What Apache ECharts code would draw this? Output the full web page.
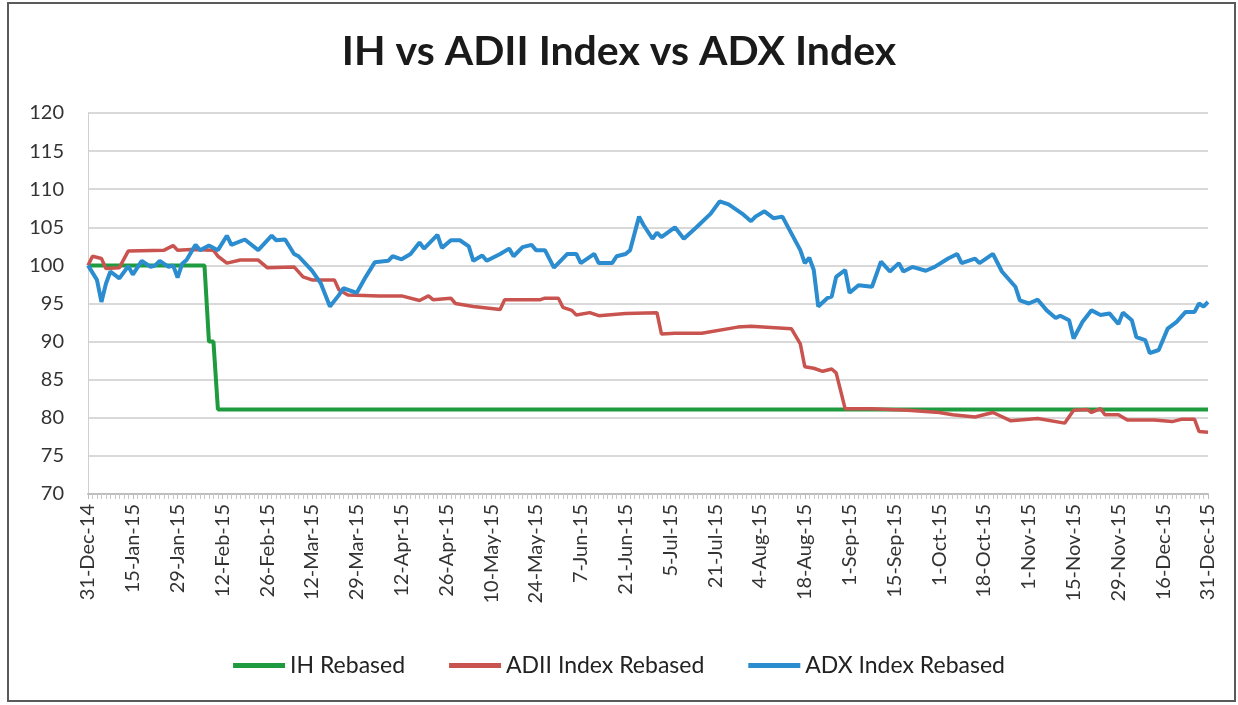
<!DOCTYPE html>
<html>
<head>
<meta charset="utf-8">
<script src="https://cdn.jsdelivr.net/npm/echarts@6/dist/echarts.min.js"></script>
<style>
  html, body { margin: 0; padding: 0; background: #fff; }
  #chart { width: 1238px; height: 705px; }
</style>
</head>
<body>
<div id="chart"></div>
<script>
// tick labels, one every 10 trading days
var tickLabels = ['31-Dec-14', '15-Jan-15', '29-Jan-15', '12-Feb-15', '26-Feb-15', '12-Mar-15',
  '29-Mar-15', '12-Apr-15', '26-Apr-15', '10-May-15', '24-May-15', '7-Jun-15', '21-Jun-15',
  '5-Jul-15', '21-Jul-15', '4-Aug-15', '18-Aug-15', '1-Sep-15', '15-Sep-15', '1-Oct-15',
  '18-Oct-15', '1-Nov-15', '15-Nov-15', '29-Nov-15', '16-Dec-15', '31-Dec-15'];

var seriesNames = ['IH Rebased', 'ADII Index Rebased', 'ADX Index Rebased'];

// [trading day index, rebased value]
var ihRebased = [[0, 100], [26, 100], [27, 90], [28, 90], [29, 81.1], [250, 81.1]];

var adiiRebased = [[0, 100.0], [1, 101.2], [3, 100.9], [4, 99.6], [7, 99.7], [9, 101.9], [17, 102.0],
  [19, 102.6], [20, 102.0], [23, 102.1], [28, 102.0], [29, 101.2], [31, 100.3], [34, 100.7],
  [38, 100.7], [40, 99.7], [46, 99.8], [48, 98.5], [50, 98.1], [55, 98.1], [56, 96.8], [58, 96.1],
  [65, 96.0], [70, 96.0], [74, 95.4], [76, 96.0], [77, 95.5], [81, 95.7], [82, 95.0], [86, 94.6],
  [92, 94.2], [93, 95.5], [101, 95.5], [102, 95.7], [105, 95.7], [106, 94.5], [108, 94.1],
  [109, 93.5], [112, 93.8], [114, 93.4], [120, 93.7], [127, 93.8], [128, 91.0], [131, 91.1],
  [137, 91.1], [145, 91.9], [148, 92.0], [157, 91.7], [159, 89.7], [160, 86.7], [162, 86.5],
  [164, 86.1], [166, 86.4], [167, 85.9], [169, 81.2], [175, 81.2], [183, 81.0], [190, 80.7],
  [193, 80.4], [198, 80.1], [202, 80.7], [206, 79.6], [212, 79.9], [218, 79.3], [220, 81.0],
  [223, 81.1], [224, 80.7], [226, 81.2], [227, 80.4], [230, 80.4], [232, 79.7], [238, 79.7],
  [242, 79.5], [244, 79.8], [247, 79.8], [248, 78.2], [250, 78.1]];

var adxRebased = [[0, 100], [2, 98.1], [3, 95.2], [4, 97.6], [5, 99.2], [7, 98.3], [9, 99.9],
  [10, 98.8], [12, 100.6], [14, 99.8], [15, 100], [16, 100.6], [18, 99.8], [19, 100], [20, 98.4],
  [21, 100.2], [22, 100.7], [24, 102.7], [25, 102.0], [27, 102.6], [29, 102.0], [31, 103.9],
  [32, 102.7], [35, 103.4], [38, 102.0], [41, 103.9], [42, 103.3], [44, 103.4], [46, 101.5],
  [47, 101.2], [50, 99.3], [52, 97.6], [54, 94.6], [56, 96.1], [57, 97.0], [60, 96.4], [62, 98.5],
  [64, 100.4], [67, 100.6], [68, 101.2], [70, 100.8], [72, 101.5], [74, 103.0], [75, 102.2],
  [78, 104.0], [79, 102.3], [81, 103.3], [83, 103.3], [85, 102.5], [86, 100.6], [88, 101.3],
  [89, 100.6], [92, 101.5], [94, 102.2], [95, 101.2], [97, 102.4], [99, 102.7], [100, 102.0],
  [102, 102.0], [104, 99.7], [105, 100.3], [107, 101.5], [109, 101.5], [110, 100.3], [113, 101.5],
  [114, 100.3], [117, 100.3], [118, 101.2], [120, 101.5], [121, 102.0], [123, 106.4], [124, 105.3],
  [126, 103.5], [127, 104.3], [128, 103.7], [131, 105.0], [133, 103.5], [136, 105.1], [139, 106.8],
  [141, 108.4], [143, 108.0], [146, 106.8], [148, 105.8], [149, 106.4], [151, 107.1], [153, 106.2],
  [155, 106.4], [157, 104.2], [159, 102.0], [160, 100.3], [161, 101.0], [162, 99.4], [163, 94.6],
  [165, 95.7], [166, 95.9], [167, 98.5], [169, 99.4], [170, 96.4], [172, 97.4], [175, 97.2],
  [177, 100.5], [179, 99.2], [181, 100.3], [182, 99.2], [184, 99.8], [187, 99.3], [189, 99.8],
  [192, 100.9], [194, 101.5], [195, 100.3], [198, 100.9], [199, 100.3], [202, 101.5], [204, 99.2],
  [207, 97.2], [208, 95.4], [210, 95.0], [212, 95.5], [214, 94.1], [216, 93.1], [217, 93.4],
  [219, 92.8], [220, 90.4], [222, 92.6], [224, 94.1], [226, 93.5], [228, 93.7], [230, 92.3],
  [231, 93.8], [233, 92.8], [234, 90.6], [236, 90.2], [237, 88.5], [239, 88.9], [241, 91.7],
  [243, 92.6], [245, 93.9], [247, 93.9], [248, 95.0], [249, 94.6], [250, 95.2]];

var colors = ['#1f9b3f', '#c9544f', '#2b8ccf'];
var font = 'Lato, "Open Sans", sans-serif';

var chart = echarts.init(document.getElementById('chart'));

chart.setOption({
  animation: false,
  color: colors,
  title: {
    text: 'IH vs ADII Index vs ADX Index',
    left: 'center',
    top: 26,
    textStyle: { fontFamily: font, fontSize: 41, fontWeight: 'bold', color: '#1a1a1a' }
  },
  graphic: [{
    type: 'rect',
    shape: { x: 8, y: 3, width: 1227, height: 698 },
    style: { fill: 'none', stroke: '#5a5a5a', lineWidth: 2 },
    silent: true
  }],
  legend: {
    top: 649,
    left: 'center',
    icon: 'rect',
    itemWidth: 52,
    itemHeight: 5,
    itemGap: 44,
    textStyle: { fontFamily: font, fontSize: 23, color: '#222' },
    data: seriesNames
  },
  grid: { left: 88, right: 30, top: 113, bottom: 211 },
  xAxis: {
    type: 'value',
    min: 0,
    max: 250,
    interval: 10,
    axisLine: { show: true, onZero: false, lineStyle: { color: '#bdbdbd', width: 2 } },
    axisTick: { show: true, length: 5, lineStyle: { color: '#bdbdbd' } },
    minorTick: { show: true, splitNumber: 10, length: 5, lineStyle: { color: '#c8c8c8' } },
    splitLine: { show: false },
    axisLabel: {
      rotate: 90,
      margin: 10,
      fontFamily: font,
      fontSize: 20,
      color: '#333',
      formatter: function (v) { return tickLabels[Math.round(v / 10)] || ''; }
    }
  },
  yAxis: {
    type: 'value',
    min: 70,
    max: 120,
    interval: 5,
    axisLine: { show: true, lineStyle: { color: '#d0d0d0', width: 1 } },
    axisTick: { show: false },
    splitLine: { lineStyle: { color: '#d9d9d9', width: 2 } },
    axisLabel: { margin: 24, fontFamily: font, fontSize: 20, color: '#333' }
  },
  series: [
    { name: seriesNames[0], type: 'line', data: ihRebased, showSymbol: false, symbol: 'none',
      lineStyle: { width: 4 } },
    { name: seriesNames[1], type: 'line', data: adiiRebased, showSymbol: false, symbol: 'none',
      lineStyle: { width: 3.5 } },
    { name: seriesNames[2], type: 'line', data: adxRebased, showSymbol: false, symbol: 'none',
      lineStyle: { width: 4 } }
  ]
});
</script>
</body>
</html>
